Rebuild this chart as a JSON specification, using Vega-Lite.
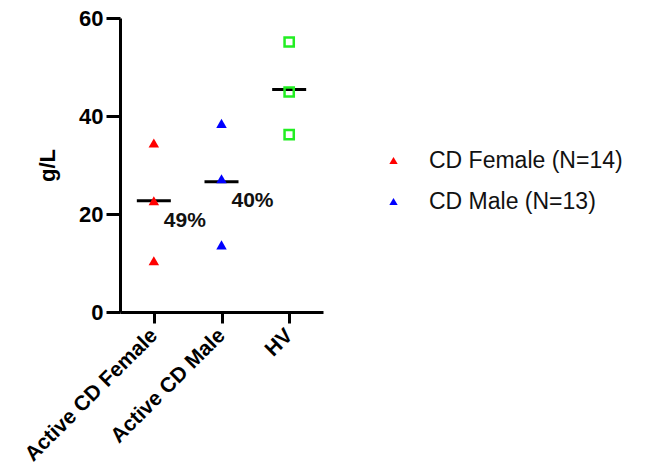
{
  "$schema": "https://vega.github.io/schema/vega-lite/v6.json",
  "width": 203,
  "height": 294,
  "autosize": {"type": "none"},
  "padding": {"left": 120, "top": 18, "right": 334, "bottom": 163},
  "config": {
    "view": {"stroke": null},
    "font": "Liberation Sans",
    "axis": {"grid": false, "domainColor": "black", "domainWidth": 3, "tickColor": "black", "tickWidth": 3, "labelColor": "black", "titleColor": "black", "labelFont": "Liberation Sans", "titleFont": "Liberation Sans"}
  },
  "datasets": {
    "pts": [
      {"group": "Active CD Female", "sex": "CD Female (N=14)", "value": 34.5},
      {"group": "Active CD Female", "sex": "CD Female (N=14)", "value": 22.7},
      {"group": "Active CD Female", "sex": "CD Female (N=14)", "value": 10.45},
      {"group": "Active CD Male", "sex": "CD Male (N=13)", "value": 38.5},
      {"group": "Active CD Male", "sex": "CD Male (N=13)", "value": 27.2},
      {"group": "Active CD Male", "sex": "CD Male (N=13)", "value": 13.7}
    ],
    "hv": [
      {"group": "HV", "value": 55.1},
      {"group": "HV", "value": 44.9},
      {"group": "HV", "value": 36.2}
    ],
    "med": [
      {"group": "Active CD Female", "value": 22.7},
      {"group": "Active CD Male", "value": 26.6},
      {"group": "HV", "value": 45.4}
    ],
    "lab": [
      {"group": "Active CD Female", "value": 18.5, "text": "49%"},
      {"group": "Active CD Male", "value": 22.6, "text": "40%"}
    ]
  },
  "encoding": {
    "x": {"field": "group", "type": "nominal", "sort": ["Active CD Female", "Active CD Male", "HV"],
      "scale": {"type": "point", "padding": 0.5, "domain": ["Active CD Female", "Active CD Male", "HV"]},
      "axis": {"title": null, "labelAngle": -45, "labelAlign": "right", "labelBaseline": "middle", "labelFontSize": 21, "labelFontWeight": "bold", "tickSize": 11, "labelPadding": 9, "labelLimit": 0}},
    "y": {"field": "value", "type": "quantitative",
      "scale": {"domain": [0, 60], "nice": false, "zero": true},
      "axis": {"title": "g/L", "values": [0, 20, 40, 60], "tickSize": 14, "labelFontSize": 22, "labelFontWeight": "bold", "labelPadding": 3, "titleFontSize": 22, "titleFontWeight": "bold", "titlePadding": 19}}
  },
  "layer": [
    {
      "data": {"name": "med"},
      "mark": {"type": "tick", "orient": "horizontal", "size": 34, "thickness": 3, "color": "black", "opacity": 1}
    },
    {
      "data": {"name": "pts"},
      "mark": {"type": "point", "shape": "triangle-up", "filled": true, "size": 110, "opacity": 1},
      "encoding": {
        "color": {"field": "sex", "type": "nominal",
          "scale": {"domain": ["CD Female (N=14)", "CD Male (N=13)"], "range": ["#ff0000", "#0000ff"]},
          "legend": {"title": null, "orient": "none", "legendX": 262, "legendY": 131, "labelFontSize": 23, "labelFont": "Liberation Sans", "labelColor": "#111", "labelLimit": 0, "symbolType": "triangle-up", "symbolSize": 70, "symbolStrokeWidth": 0, "labelOffset": 24, "rowPadding": 17, "symbolOpacity": 1}}
      }
    },
    {
      "data": {"name": "hv"},
      "mark": {"type": "point", "shape": "square", "filled": false, "size": 85, "strokeWidth": 2.5, "color": "#22ee22", "opacity": 1}
    },
    {
      "data": {"name": "lab"},
      "mark": {"type": "text", "fontSize": 21, "fontWeight": "bold", "align": "left", "baseline": "middle", "dx": 10, "color": "#111"},
      "encoding": {"text": {"field": "text"}}
    }
  ]
}
